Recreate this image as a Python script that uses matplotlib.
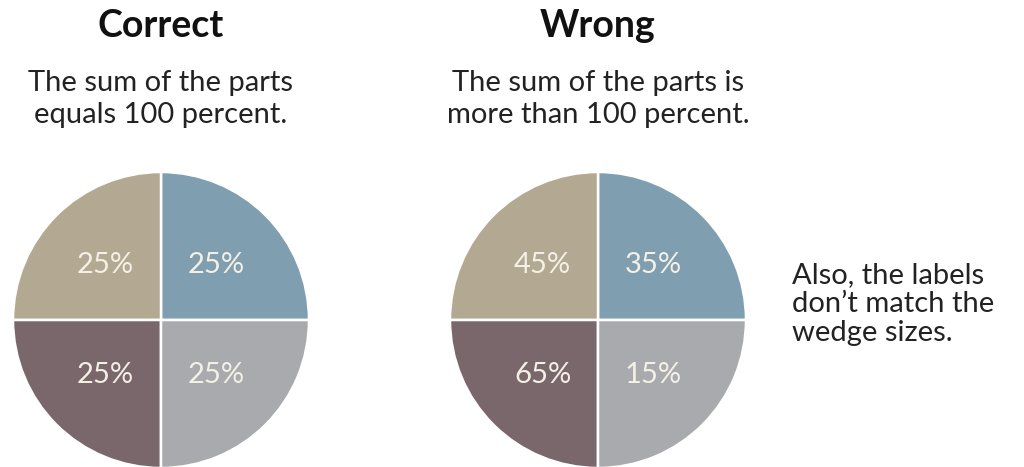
import matplotlib.pyplot as plt

plt.rcParams['font.family'] = ['Lato', 'DejaVu Sans']

W, H = 1024, 467

# wedges go counter-clockwise from 3 o'clock: top-right, top-left, bottom-left, bottom-right
sizes = [25, 25, 25, 25]
correct_labels = ["25%", "25%", "25%", "25%"]
wrong_labels = ["35%", "45%", "65%", "15%"]
colors = ["#7f9eb0", "#b3a891", "#7a676c", "#a8aaae"]

titles = ["Correct", "Wrong"]
subtitles = ["The sum of the parts\nequals 100 percent.",
             "The sum of the parts is\nmore than 100 percent."]
note = "Also, the labels\ndon\u2019t match the\nwedge sizes."

centers = [(161, 320), (598, 320)]
R = 148

fig = plt.figure(figsize=(W / 100, H / 100), dpi=100)
fig.patch.set_facecolor("white")


def draw_pie(cx, cy, labels):
    ax = fig.add_axes([(cx - R) / W, (H - cy - R) / H, 2 * R / W, 2 * R / H])
    it = iter(labels)
    ax.pie(sizes, colors=colors, startangle=0, counterclock=True,
           autopct=lambda p: next(it), pctdistance=0.53,
           wedgeprops=dict(edgecolor="white", linewidth=1.8),
           textprops=dict(color="#f4f0e6", fontsize=21))
    ax.set_xlim(-1, 1)
    ax.set_ylim(-1, 1)
    ax.set_aspect("equal")
    ax.axis("off")


draw_pie(*centers[0], correct_labels)
draw_pie(*centers[1], wrong_labels)

for (cx, cy), t, s in zip(centers, titles, subtitles):
    fig.text(cx / W, 1 - 26 / H, t, ha="center", va="center",
             fontsize=27, fontweight="bold", color="#111111")
    fig.text(cx / W, 1 - 99 / H, s, ha="center", va="center",
             fontsize=21, color="#222222", linespacing=1.28)

fig.text(792 / W, 1 - 304 / H, note, ha="left", va="center",
         fontsize=21, color="#222222", linespacing=1.15)

fig.savefig("out.png", dpi=100)
